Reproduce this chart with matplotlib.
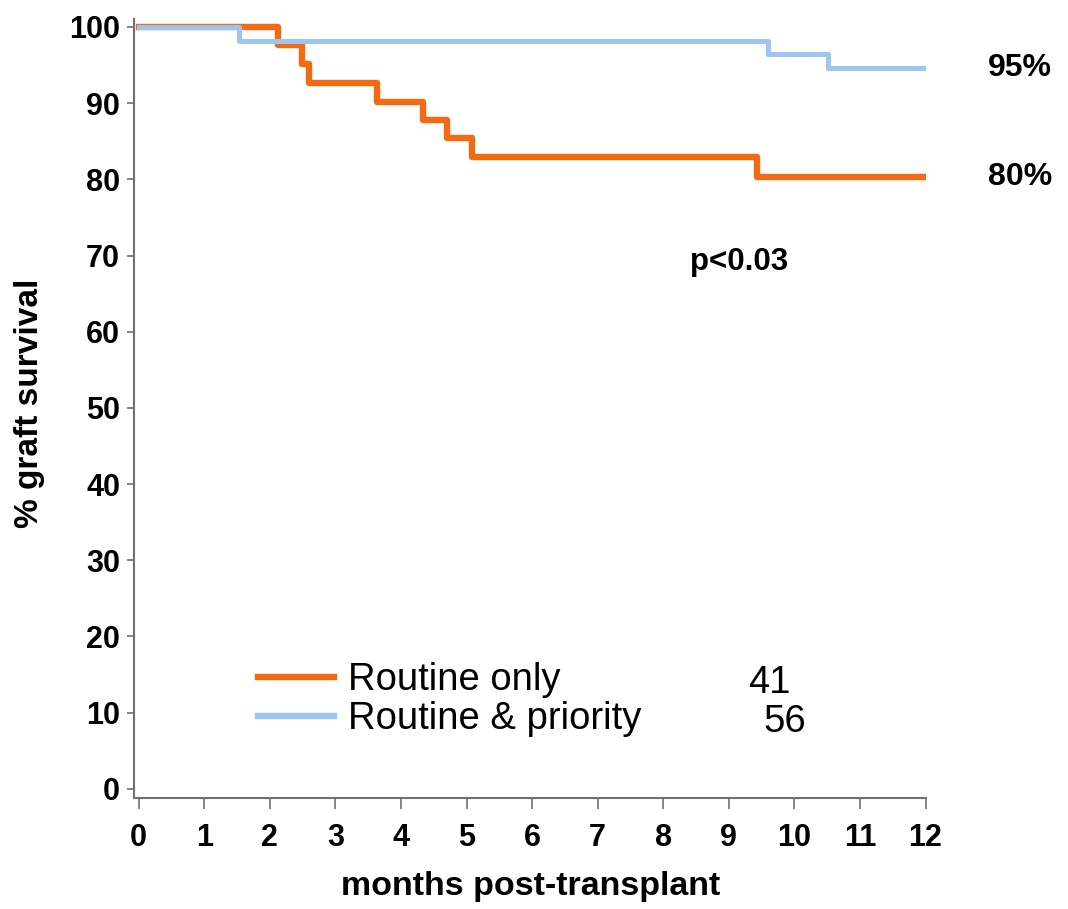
import matplotlib
matplotlib.use("Agg")
import matplotlib.pyplot as plt

plt.rcParams['font.family'] = ['Liberation Sans', 'DejaVu Sans']

# Data
routine_t = [0, 2.13, 2.49, 2.60, 3.64, 4.33, 4.71, 5.09, 9.43, 12]
routine_s = [100, 97.6, 95.1, 92.7, 90.2, 87.8, 85.4, 83.0, 80.3, 80.3]
priority_t = [0, 1.53, 9.60, 10.52, 12]
priority_s = [100, 98.2, 96.5, 94.6, 94.6]
series_labels = ["Routine only", "Routine & priority"]
series_n = ["41", "56"]
end_labels = ["95%", "80%"]
p_text = "p<0.03"
xticks = list(range(0, 13))
yticks = list(range(0, 101, 10))

orange = "#f26a12"
blue = "#9cc5f2"
axis_grey = "#707070"

fig = plt.figure(figsize=(10.68, 9.09), dpi=100)
ax = fig.add_axes([0.1255, 0.1221, 0.8666 - 0.1255, 0.9787 - 0.1221])

l1, = ax.step(routine_t, routine_s, where='post', color=orange, lw=4.6,
              label=series_labels[0], zorder=2)
l2, = ax.step(priority_t, priority_s, where='post', color=blue, lw=3.6,
              label=series_labels[1], zorder=3)

ax.set_xlim(-0.07, 12)
ax.set_ylim(-1.2, 101)
ax.set_xticks(xticks)
ax.set_yticks(yticks)
ax.tick_params(axis='both', direction='out', color=axis_grey, width=1.2)
ax.tick_params(axis='x', length=8, pad=10)
ax.tick_params(axis='y', length=5, pad=5)
for lab in ax.get_xticklabels() + ax.get_yticklabels():
    lab.set_fontsize(22)
    lab.set_fontweight('bold')

for s in ['top', 'right']:
    ax.spines[s].set_visible(False)
for s in ['left', 'bottom']:
    ax.spines[s].set_color(axis_grey)
    ax.spines[s].set_linewidth(1.5)

fig.text(531 / 1068, 1 - 886 / 909, "months post-transplant", ha='center',
         va='center', fontsize=24.5, fontweight='bold')
fig.text(30 / 1068, 1 - 403 / 909, "% graft survival", ha='center',
         va='center', rotation=90, fontsize=24, fontweight='bold')

# end-of-curve labels
ax.text(12.95, priority_s[-1], end_labels[0], ha='left', va='center',
        fontsize=23, fontweight='bold', clip_on=False)
ax.text(12.95, routine_s[-1], end_labels[1], ha='left', va='center',
        fontsize=23, fontweight='bold', clip_on=False)
ax.text(8.41, 69.2, p_text, ha='left', va='center', fontsize=22.5,
        fontweight='bold')

leg = ax.legend(handles=[l1, l2], loc='center left',
                bbox_to_anchor=(0.1567, 0.126), frameon=False, fontsize=27.5,
                handlelength=2.0, handletextpad=0.35, labelspacing=0.08,
                borderpad=0, borderaxespad=0)
for line in leg.get_lines():
    line.set_linewidth(4.6)

ax.text(0.829, 0.148, series_n[0], transform=ax.transAxes, ha='right',
        va='center', fontsize=27.5)
ax.text(0.849, 0.097, series_n[1], transform=ax.transAxes, ha='right',
        va='center', fontsize=27.5)

fig.savefig("out.png", dpi=100)
